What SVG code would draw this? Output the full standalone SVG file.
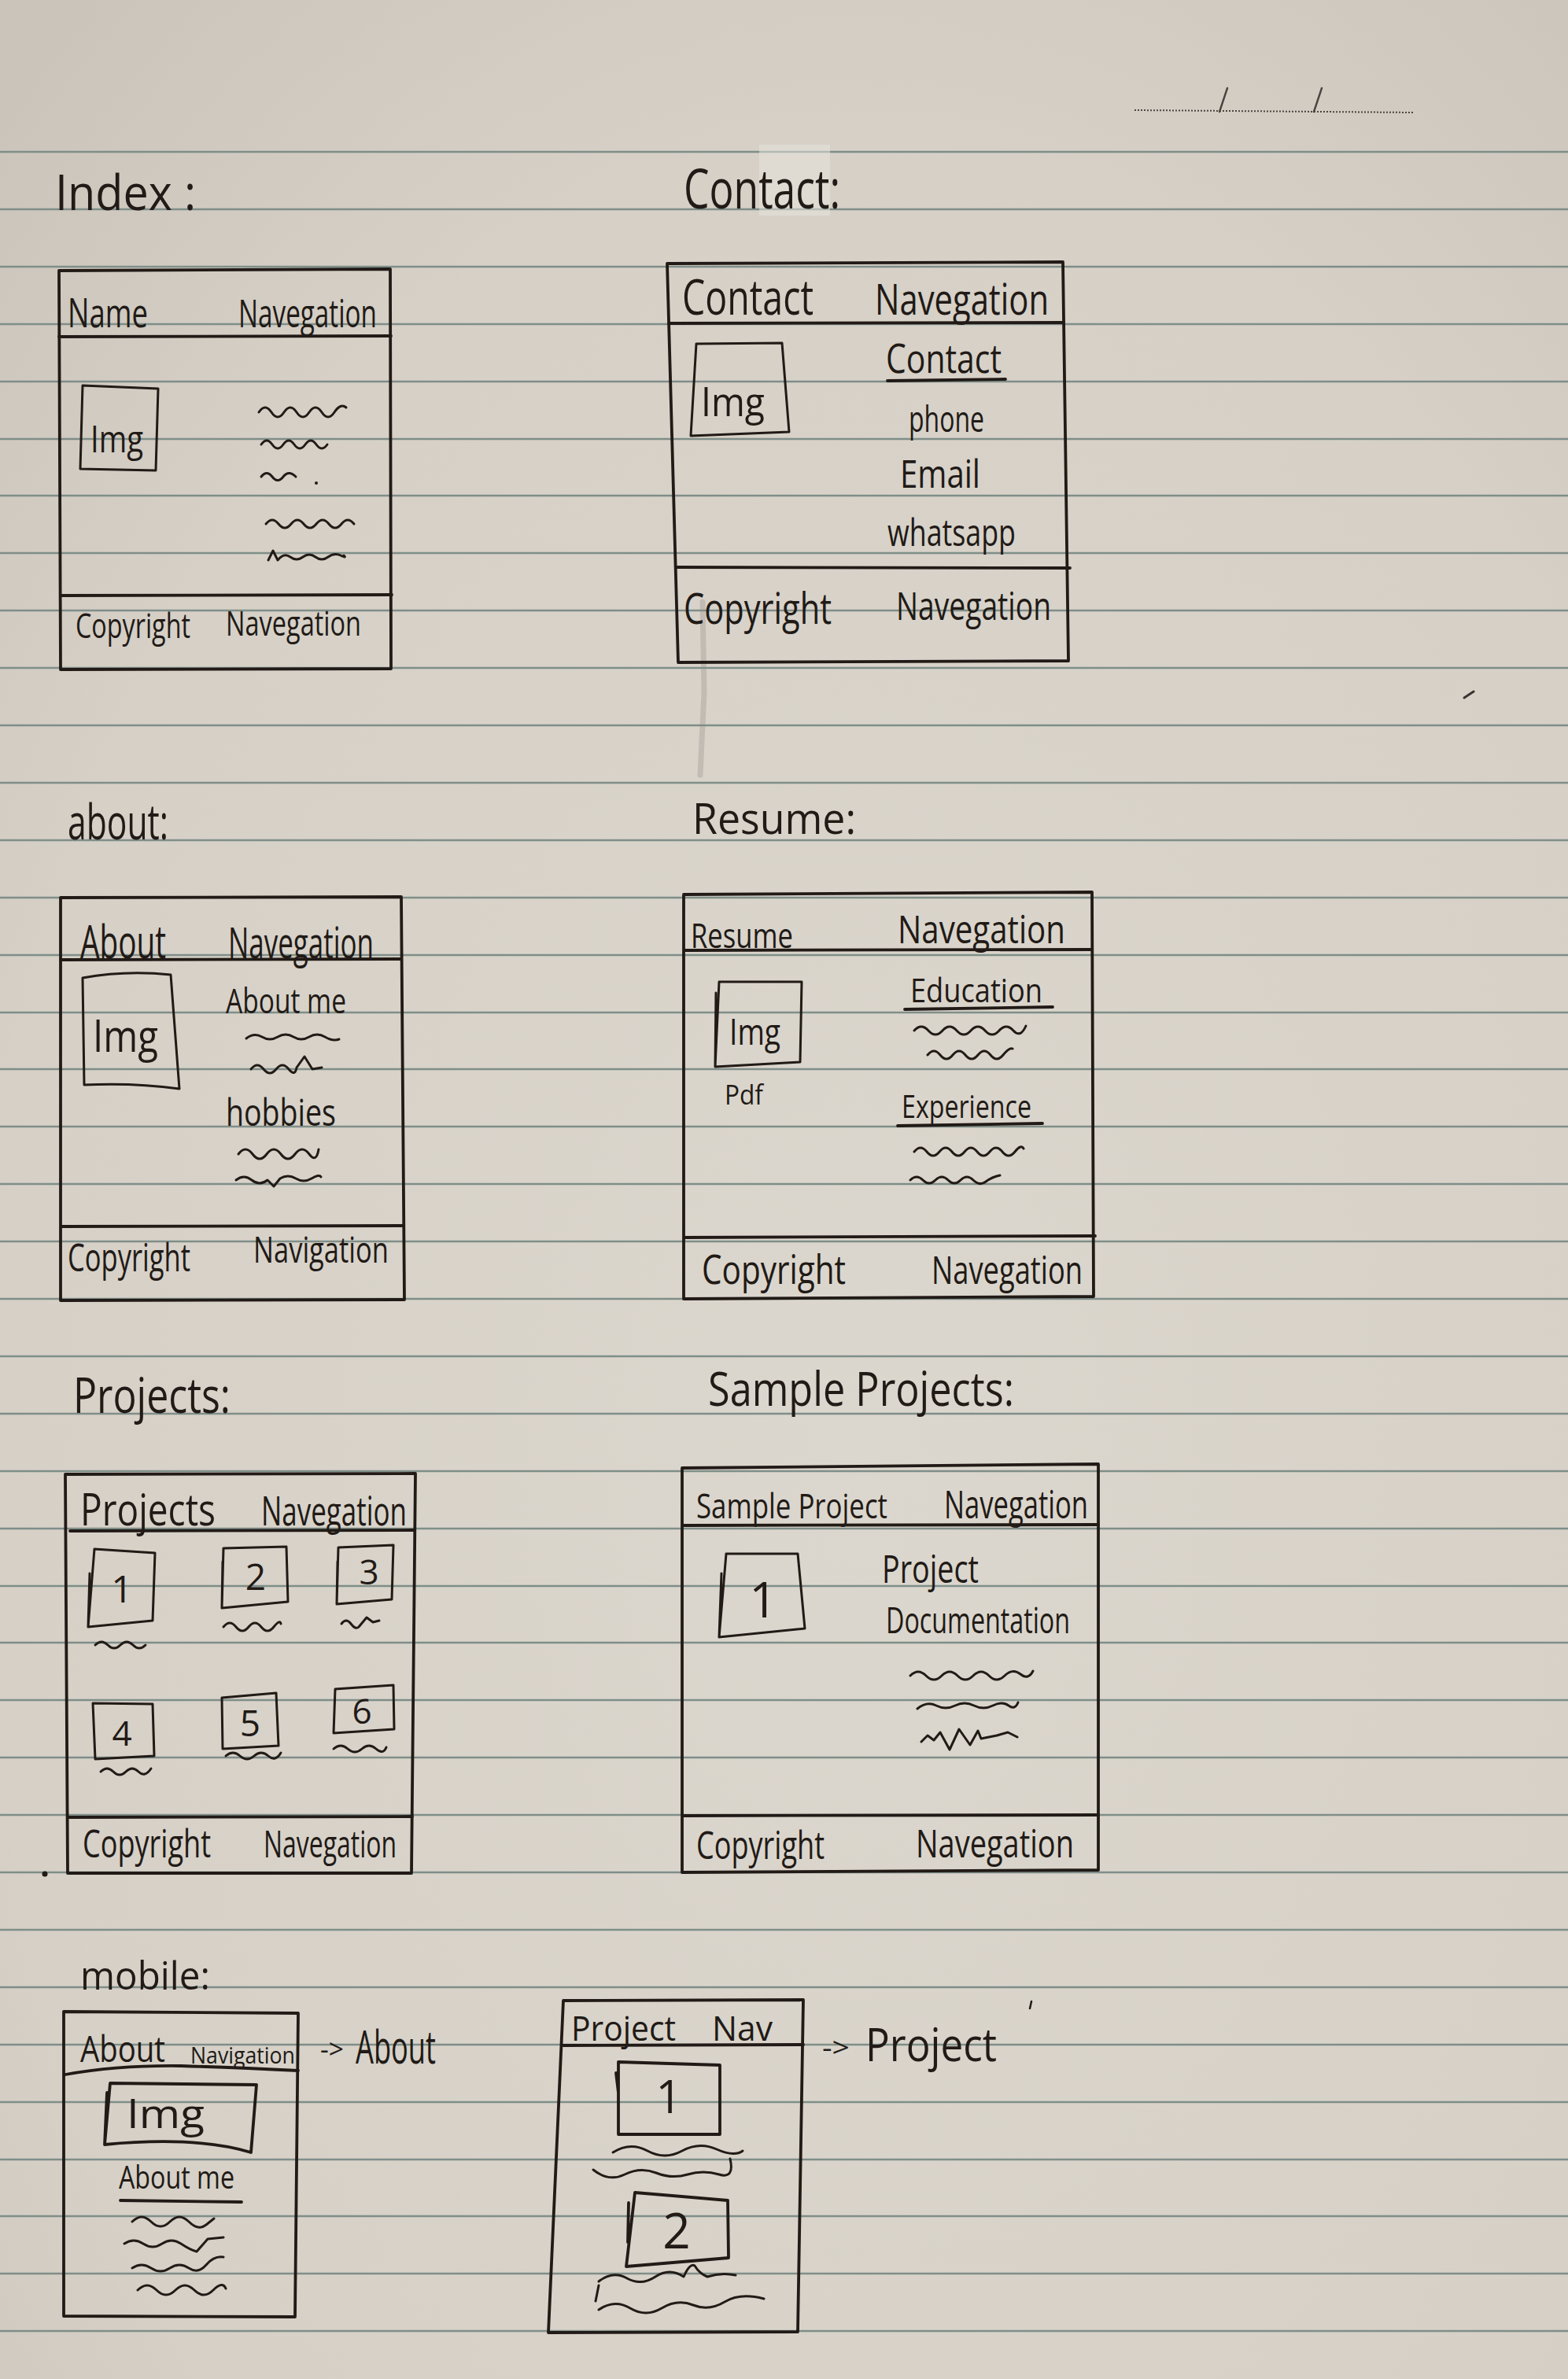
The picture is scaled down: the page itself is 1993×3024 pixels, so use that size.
<svg xmlns="http://www.w3.org/2000/svg" width="1993" height="3024" viewBox="0 0 1993 3024">
<defs>
  <radialGradient id="paperTone" cx="0.55" cy="0.62" r="0.8">
    <stop offset="0" stop-color="#dcd7ce"/>
    <stop offset="0.7" stop-color="#d6d0c7"/>
    <stop offset="1" stop-color="#cac4ba"/>
  </radialGradient>
  <style>
    .rule { stroke:#7f8e89; stroke-width:2.3; fill:none }
    .ink { fill:none; stroke:#211a16; stroke-width:3.8; stroke-linecap:round; stroke-linejoin:round }
    .pen { fill:none; stroke:#211a16; stroke-width:3; stroke-linecap:round; stroke-linejoin:round }
    .hw { font-family:'Open Sans','DejaVu Sans',sans-serif; font-weight:400; fill:#211a16 }
    .num { font-family:'Open Sans','DejaVu Sans',sans-serif; font-weight:400; fill:#211a16; text-anchor:middle }
  </style>
</defs>

<!-- notebook page -->
<rect x="0" y="0" width="1993" height="3024" fill="url(#paperTone)"/>
<g id="rules" class="rule">
  <path d="M0 193H1993"/><path d="M0 266H1993"/><path d="M0 339H1993"/><path d="M0 412H1993"/>
  <path d="M0 485H1993"/><path d="M0 558H1993"/><path d="M0 630H1993"/><path d="M0 703H1993"/>
  <path d="M0 776H1993"/><path d="M0 849H1993"/><path d="M0 922H1993"/><path d="M0 995H1993"/>
  <path d="M0 1068H1993"/><path d="M0 1141H1993"/><path d="M0 1214H1993"/><path d="M0 1287H1993"/>
  <path d="M0 1359H1993"/><path d="M0 1432H1993"/><path d="M0 1505H1993"/><path d="M0 1578H1993"/>
  <path d="M0 1651H1993"/><path d="M0 1724H1993"/><path d="M0 1797H1993"/><path d="M0 1870H1993"/>
  <path d="M0 1943H1993"/><path d="M0 2016H1993"/><path d="M0 2088H1993"/><path d="M0 2161H1993"/>
  <path d="M0 2234H1993"/><path d="M0 2307H1993"/><path d="M0 2380H1993"/><path d="M0 2453H1993"/>
  <path d="M0 2526H1993"/><path d="M0 2599H1993"/><path d="M0 2672H1993"/><path d="M0 2745H1993"/>
  <path d="M0 2817H1993"/><path d="M0 2890H1993"/><path d="M0 2963H1993"/>
</g>

<!-- date field, top right -->
<g id="date">
  <path d="M1442 140L1796 143" stroke="#4a4440" stroke-width="2" stroke-dasharray="2 2" fill="none"/>
  <path d="M1550 142L1560 112M1670 142L1680 112" stroke="#4a4440" stroke-width="2.4" fill="none" stroke-linecap="round"/>
</g>

<!-- stray marks -->
<g id="marks">
  <rect x="965" y="184" width="90" height="90" fill="#e8e5de" opacity="0.5"/>
  <path d="M893 765L895 880L890 985" stroke="#8d8883" stroke-width="7" opacity="0.3" fill="none" stroke-linecap="round"/>
  <path d="M1861 887L1873 879" stroke="#3a3330" stroke-width="3" stroke-linecap="round"/>
  <circle cx="57" cy="2382" r="3.5" fill="#211a16"/>
  <path d="M1309 2553L1311 2544" stroke="#211a16" stroke-width="2.5" stroke-linecap="round"/>
</g>

<!-- Index page -->
<g id="index">
  <text class="hw" x="70" y="267" font-size="62" textLength="179" lengthAdjust="spacingAndGlyphs">Index :</text>
  <path class="ink" d="M75 344L496 342L497 850L77 851Z"/>
  <path class="ink" d="M75 428L497 427M77 757L498 756"/>
  <text class="hw" x="86" y="416" font-size="52" textLength="102" lengthAdjust="spacingAndGlyphs">Name</text>
  <text class="hw" x="303" y="416" font-size="50" textLength="176" lengthAdjust="spacingAndGlyphs">Navegation</text>
  <path class="pen" d="M105 490L201 494L198 598L102 596Z"/>
  <text class="hw" x="115" y="575" font-size="48" textLength="67" lengthAdjust="spacingAndGlyphs">Img</text>
  <path class="pen" d="M329 524q8 -12 16 0t16 0t16 0t16 0t16 0t16 0t15 -6"/>
  <path class="pen" d="M332 565q7 -10 14 0t14 0t14 0t14 0t14 0t14 0"/>
  <path class="pen" d="M332 606q7 -9 14 0t14 0t16 0"/>
  <circle cx="402" cy="614" r="2" fill="#211a16"/>
  <path class="pen" d="M338 666q8 -10 16 0t16 0t16 0t16 0t16 0t16 0t16 0"/>
  <path class="pen" d="M341 712l6 -12l6 12q8 -10 16 -4t16 0t16 0t16 0t16 -2t4 0"/>
  <text class="hw" x="96" y="811" font-size="44" textLength="146" lengthAdjust="spacingAndGlyphs">Copyright</text>
  <text class="hw" x="287" y="808" font-size="44" textLength="172" lengthAdjust="spacingAndGlyphs">Navegation</text>
</g>

<!-- Contact page -->
<g id="contact">
  <text class="hw" x="869" y="265" font-size="70" textLength="199" lengthAdjust="spacingAndGlyphs">Contact:</text>
  <path class="ink" d="M848 335L1351 333L1358 840L862 842Z"/>
  <path class="ink" d="M850 411L1352 410M860 721L1360 722"/>
  <text class="hw" x="867" y="400" font-size="62" textLength="167" lengthAdjust="spacingAndGlyphs">Contact</text>
  <text class="hw" x="1112" y="400" font-size="54" textLength="221" lengthAdjust="spacingAndGlyphs">Navegation</text>
  <path class="pen" d="M885 437L994 436L1003 549L878 554Z"/>
  <text class="hw" x="891" y="529" font-size="52" textLength="81" lengthAdjust="spacingAndGlyphs">Img</text>
  <text class="hw" x="1126" y="474" font-size="52" textLength="147" lengthAdjust="spacingAndGlyphs">Contact</text>
  <path class="ink" d="M1128 484L1278 482"/>
  <text class="hw" x="1155" y="549" font-size="46" textLength="96" lengthAdjust="spacingAndGlyphs">phone</text>
  <text class="hw" x="1144" y="620" font-size="50" textLength="102" lengthAdjust="spacingAndGlyphs">Email</text>
  <text class="hw" x="1128" y="694" font-size="48" textLength="163" lengthAdjust="spacingAndGlyphs">whatsapp</text>
  <text class="hw" x="869" y="793" font-size="54" textLength="188" lengthAdjust="spacingAndGlyphs">Copyright</text>
  <text class="hw" x="1139" y="788" font-size="50" textLength="197" lengthAdjust="spacingAndGlyphs">Navegation</text>
</g>

<!-- About page -->
<g id="about">
  <text class="hw" x="86" y="1067" font-size="62" textLength="128" lengthAdjust="spacingAndGlyphs">about:</text>
  <path class="ink" d="M77 1141L510 1140L514 1652L77 1653Z"/>
  <path class="ink" d="M77 1220L510 1219M78 1559L513 1558"/>
  <text class="hw" x="102" y="1218" font-size="58" textLength="109" lengthAdjust="spacingAndGlyphs">About</text>
  <text class="hw" x="290" y="1218" font-size="54" textLength="185" lengthAdjust="spacingAndGlyphs">Navegation</text>
  <path class="pen" d="M105 1243Q160 1233 217 1239L228 1384Q170 1376 107 1379Z"/>
  <text class="hw" x="118" y="1337" font-size="56" textLength="83" lengthAdjust="spacingAndGlyphs">Img</text>
  <text class="hw" x="287" y="1288" font-size="44" textLength="153" lengthAdjust="spacingAndGlyphs">About me</text>
  <path class="pen" d="M313 1320q10 -8 20 -2t20 0t20 0t20 0t20 0t18 3"/>
  <path class="pen" d="M319 1359q8 -10 16 0t16 0t16 0t10 -2l10 -14l10 16l12 -2"/>
  <text class="hw" x="287" y="1431" font-size="48" textLength="140" lengthAdjust="spacingAndGlyphs">hobbies</text>
  <path class="pen" d="M303 1467q9 -12 18 0t18 0t18 0t18 0t18 0t12 -6"/>
  <path class="pen" d="M300 1500q10 -8 20 0t20 0l8 8l8 -10q10 -6 20 0t20 0t12 -2"/>
  <text class="hw" x="86" y="1616" font-size="50" textLength="156" lengthAdjust="spacingAndGlyphs">Copyright</text>
  <text class="hw" x="322" y="1605" font-size="46" textLength="172" lengthAdjust="spacingAndGlyphs">Navigation</text>
</g>

<!-- Resume page -->
<g id="resume">
  <text class="hw" x="880" y="1060" font-size="54" textLength="208" lengthAdjust="spacingAndGlyphs">Resume:</text>
  <path class="ink" d="M869 1137L1388 1134L1390 1648L869 1651Z"/>
  <path class="ink" d="M870 1208L1388 1207M870 1573L1392 1571"/>
  <text class="hw" x="878" y="1205" font-size="44" textLength="130" lengthAdjust="spacingAndGlyphs">Resume</text>
  <text class="hw" x="1141" y="1199" font-size="50" textLength="213" lengthAdjust="spacingAndGlyphs">Navegation</text>
  <path class="pen" d="M914 1248L1019 1248L1017 1350L909 1356ZM910 1262L909 1356"/>
  <text class="hw" x="927" y="1328" font-size="46" textLength="65" lengthAdjust="spacingAndGlyphs">Img</text>
  <text class="hw" x="921" y="1404" font-size="34" textLength="49" lengthAdjust="spacingAndGlyphs">Pdf</text>
  <text class="hw" x="1157" y="1274" font-size="42" textLength="168" lengthAdjust="spacingAndGlyphs">Education</text>
  <path class="ink" d="M1150 1283L1338 1280"/>
  <path class="pen" d="M1162 1310q9 -10 18 0t18 0t18 0t18 0t18 0t18 0t18 0t16 -6"/>
  <path class="pen" d="M1179 1341q8 -10 16 0t16 0t16 0t16 0t16 0t16 0t12 -8"/>
  <text class="hw" x="1146" y="1421" font-size="40" textLength="165" lengthAdjust="spacingAndGlyphs">Experience</text>
  <path class="ink" d="M1141 1431L1325 1428"/>
  <path class="pen" d="M1162 1464q8 -10 16 0t16 0t16 0t16 0t16 0t16 0t16 0t16 0t11 -4"/>
  <path class="pen" d="M1157 1500q8 -8 16 0t16 0t16 0t16 0t16 0t16 2t18 -8"/>
  <text class="hw" x="892" y="1632" font-size="52" textLength="183" lengthAdjust="spacingAndGlyphs">Copyright</text>
  <text class="hw" x="1184" y="1632" font-size="50" textLength="192" lengthAdjust="spacingAndGlyphs">Navegation</text>
</g>

<!-- Projects page -->
<g id="projects">
  <text class="hw" x="93" y="1796" font-size="62" textLength="200" lengthAdjust="spacingAndGlyphs">Projects:</text>
  <path class="ink" d="M83 1874L528 1873L523 2381L86 2381Z"/>
  <path class="ink" d="M89 1946L526 1945M87 2310L524 2309"/>
  <text class="hw" x="102" y="1939" font-size="56" textLength="172" lengthAdjust="spacingAndGlyphs">Projects</text>
  <text class="hw" x="332" y="1939" font-size="52" textLength="185" lengthAdjust="spacingAndGlyphs">Navegation</text>
  <g id="tile-1">
    <path class="pen" d="M120 1969L197 1974L194 2060L112 2068ZM114 2000L112 2068"/>
    <text class="num" x="155" y="2037" font-size="48">1</text>
    <path class="pen" d="M121 2091q8 -8 16 0t16 0t16 0t16 0"/>
  </g>
  <g id="tile-2">
    <path class="pen" d="M284 1968L364 1966L366 2036L282 2044ZM283 1985L282 2044"/>
    <text class="num" x="325" y="2021" font-size="46">2</text>
    <path class="pen" d="M284 2068q8 -10 16 0t16 0t16 0t16 0t9 -4"/>
  </g>
  <g id="tile-3">
    <path class="pen" d="M430 1967L500 1964L498 2033L428 2039ZM429 1985L428 2039"/>
    <text class="num" x="469" y="2014" font-size="44">3</text>
    <path class="pen" d="M434 2064q6 -8 12 0t10 4l10 -12l8 6l8 -2"/>
  </g>
  <g id="tile-4">
    <path class="pen" d="M118 2165L194 2166L196 2232L121 2236Z"/>
    <text class="num" x="155" y="2219" font-size="44">4</text>
    <path class="pen" d="M128 2252q8 -8 16 0t16 0t16 0t16 -4"/>
  </g>
  <g id="tile-5">
    <path class="pen" d="M282 2158L351 2152L354 2219L283 2223Z"/>
    <text class="num" x="318" y="2207" font-size="46">5</text>
    <path class="pen" d="M287 2232q9 -8 18 0t18 0t18 0t16 -4"/>
  </g>
  <g id="tile-6">
    <path class="pen" d="M426 2147L500 2142L501 2198L424 2203Z"/>
    <text class="num" x="460" y="2191" font-size="44">6</text>
    <path class="pen" d="M424 2223q9 -8 18 0t18 0t18 0t13 -2"/>
  </g>
  <text class="hw" x="105" y="2361" font-size="50" textLength="163" lengthAdjust="spacingAndGlyphs">Copyright</text>
  <text class="hw" x="335" y="2361" font-size="48" textLength="169" lengthAdjust="spacingAndGlyphs">Navegation</text>
</g>

<!-- Sample project page -->
<g id="sample-project">
  <text class="hw" x="900" y="1787" font-size="60" textLength="389" lengthAdjust="spacingAndGlyphs">Sample Projects:</text>
  <path class="ink" d="M867 1866L1396 1861L1396 2377L867 2380Z"/>
  <path class="ink" d="M868 1939L1396 1938M868 2308L1396 2307"/>
  <text class="hw" x="885" y="1930" font-size="44" textLength="243" lengthAdjust="spacingAndGlyphs">Sample Project</text>
  <text class="hw" x="1200" y="1930" font-size="50" textLength="183" lengthAdjust="spacingAndGlyphs">Navegation</text>
  <path class="pen" d="M923 1975L1014 1975L1023 2070L914 2081ZM917 2000L914 2081"/>
  <text class="num" x="970" y="2056" font-size="62">1</text>
  <text class="hw" x="1121" y="2012" font-size="50" textLength="123" lengthAdjust="spacingAndGlyphs">Project</text>
  <text class="hw" x="1126" y="2076" font-size="46" textLength="234" lengthAdjust="spacingAndGlyphs">Documentation</text>
  <path class="pen" d="M1157 2130q10 -10 20 0t20 0t20 0t20 0t20 0t20 0t20 -2t16 -4"/>
  <path class="pen" d="M1166 2172q12 -10 24 -4t24 0t24 0t24 0t20 0t12 -4"/>
  <path class="pen" d="M1171 2214l8 -8l8 6l8 -10l12 22l12 -26l14 20l10 -18l4 10l20 -4l14 -4l12 6"/>
  <text class="hw" x="885" y="2363" font-size="50" textLength="163" lengthAdjust="spacingAndGlyphs">Copyright</text>
  <text class="hw" x="1164" y="2361" font-size="50" textLength="201" lengthAdjust="spacingAndGlyphs">Navegation</text>
</g>

<!-- Mobile layouts -->
<g id="mobile-about">
  <text class="hw" x="102" y="2529" font-size="50" textLength="165" lengthAdjust="spacingAndGlyphs">mobile:</text>
  <path class="ink" d="M81 2557L379 2559L375 2945L81 2944Z"/>
  <path class="ink" d="M83 2637Q150 2625 230 2626Q300 2628 379 2632"/>
  <text class="hw" x="102" y="2621" font-size="46" textLength="108" lengthAdjust="spacingAndGlyphs">About</text>
  <text class="hw" x="242" y="2623" font-size="30" textLength="133" lengthAdjust="spacingAndGlyphs">Navigation</text>
  <path class="ink" d="M140 2648L326 2650L319 2736Q250 2715 133 2726ZM136 2660L133 2726"/>
  <text class="hw" x="161" y="2705" font-size="52" textLength="99" lengthAdjust="spacingAndGlyphs">Img</text>
  <text class="hw" x="151" y="2782" font-size="40" textLength="147" lengthAdjust="spacingAndGlyphs">About me</text>
  <path class="ink" d="M153 2797L307 2799"/>
  <path class="pen" d="M168 2824q12 -12 24 0t24 0t24 0t22 4l10 -8"/>
  <path class="pen" d="M158 2852q12 -8 24 0t24 0t24 0t20 10l14 -16l20 -2"/>
  <path class="pen" d="M168 2883q12 -8 24 0t24 0t24 0t22 -4t22 -10"/>
  <path class="pen" d="M175 2911q12 -12 24 0t24 0t24 0t24 0t16 -2"/>
</g>

<g id="mobile-projects">
  <path class="ink" d="M716 2543L1021 2542L1014 2964L697 2965Z"/>
  <path class="ink" d="M716 2600L1021 2599"/>
  <text class="hw" x="726" y="2594" font-size="44" textLength="133" lengthAdjust="spacingAndGlyphs">Project</text>
  <text class="hw" x="905" y="2594" font-size="44" textLength="77" lengthAdjust="spacingAndGlyphs">Nav</text>
  <path class="ink" d="M786 2621L915 2625L915 2713L786 2713ZM783 2635L786 2660"/>
  <text class="num" x="850" y="2686" font-size="58">1</text>
  <path class="pen" d="M779 2736q22 -14 44 -2t44 0t44 -2t33 2"/>
  <path class="pen" d="M754 2758q20 16 40 6t40 -2t40 2t40 0t14 -20"/>
  <path class="ink" d="M807 2787L925 2797L926 2870L796 2881ZM799 2800L798 2850"/>
  <text class="num" x="860" y="2858" font-size="62">2</text>
  <path class="pen" d="M761 2900q18 -14 36 -4t36 -2t36 0q8 -18 14 -14q6 10 16 14q18 -6 36 -2M757 2925l4 -20"/>
  <path class="pen" d="M761 2936q20 -14 40 -2t40 0t40 -4t40 -4t50 -4"/>
</g>

<!-- page-to-page arrows on the mobile sketches -->
<g id="connectors">
  <text class="hw" x="407" y="2617" font-size="34" textLength="30" lengthAdjust="spacingAndGlyphs">-&gt;</text>
  <text class="hw" x="452" y="2623" font-size="58" textLength="102" lengthAdjust="spacingAndGlyphs">About</text>
  <text class="hw" x="1045" y="2615" font-size="34" textLength="35" lengthAdjust="spacingAndGlyphs">-&gt;</text>
  <text class="hw" x="1100" y="2620" font-size="58" textLength="167" lengthAdjust="spacingAndGlyphs">Project</text>
</g>
</svg>
